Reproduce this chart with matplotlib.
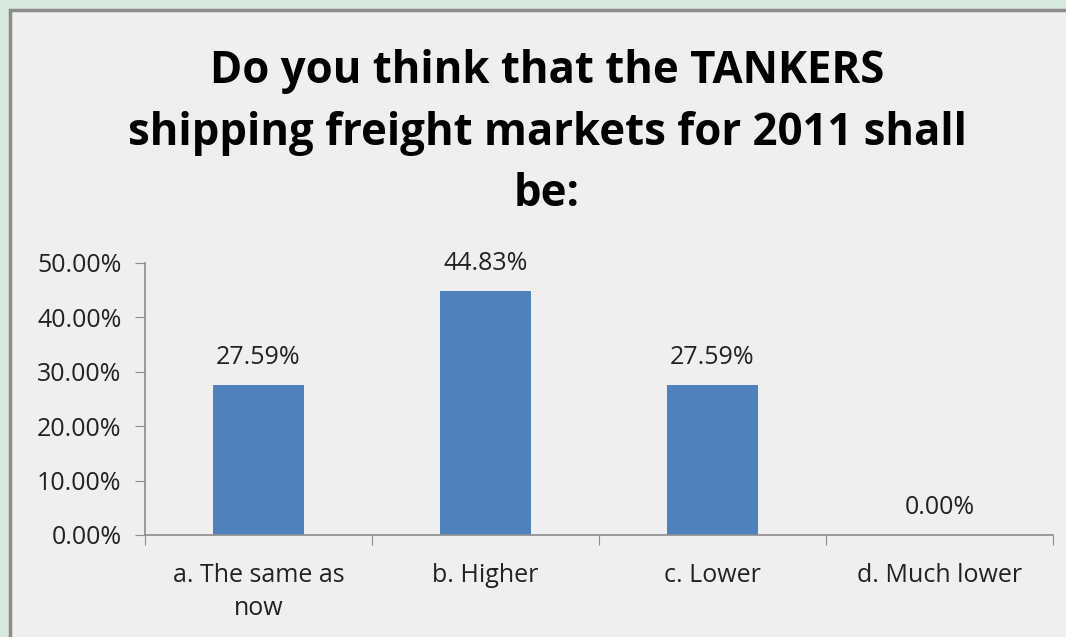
import matplotlib.pyplot as plt
from matplotlib.patches import Rectangle
from matplotlib.ticker import FuncFormatter, FixedLocator

# Dados do gráfico
categories = ['a. The same as\nnow', 'b. Higher', 'c. Lower', 'd. Much lower']
values = [27.59, 44.83, 27.59, 0.00]
title = 'Do you think that the TANKERS\nshipping freight markets for 2011 shall\nbe:'

plt.rcParams['font.family'] = ['Open Sans', 'DejaVu Sans']

fig = plt.figure(figsize=(10.66, 6.37), dpi=100)
fig.patch.set_facecolor('#d8e9df')

# moldura do gráfico
fig.patches.append(Rectangle((10 / 1066, -0.05), 1.1, 1 - 10 / 637 + 0.05,
                             transform=fig.transFigure, facecolor='#efefef',
                             edgecolor='#8c8c8c', linewidth=2.5, zorder=-1))

ax = fig.add_axes([145 / 1066, 102 / 637, 908 / 1066, 272 / 637])
ax.set_facecolor('none')

x = list(range(len(categories)))
ax.bar(x, values, width=0.4, color='#4f81bd', zorder=2)
for xi, v in zip(x, values):
    ax.annotate(f'{v:.2f}%', (xi, v), xytext=(0, 20), textcoords='offset points',
                ha='center', va='center', fontsize=18, color='#222222')

ax.set_xlim(-0.5, len(categories) - 0.5)
ax.set_ylim(0, 50)
ax.set_yticks([0, 10, 20, 30, 40, 50])
ax.yaxis.set_major_formatter(FuncFormatter(lambda v, p: f'{v:.2f}%'))

ax.xaxis.set_major_locator(FixedLocator([i - 0.5 for i in range(len(categories) + 1)]))
ax.set_xticklabels([])
ax.xaxis.set_minor_locator(FixedLocator(x))
ax.set_xticklabels(categories, minor=True, fontsize=18, color='#222222', linespacing=1.43)
ax.tick_params(axis='x', which='minor', length=0, pad=20)
ax.tick_params(axis='x', which='major', length=7, direction='out', color='#8c8c8c')
ax.tick_params(axis='y', length=7, direction='out', color='#8c8c8c',
               labelsize=18, labelcolor='#222222', pad=10)

for s in ['top', 'right']:
    ax.spines[s].set_visible(False)
for s in ['left', 'bottom']:
    ax.spines[s].set_color('#8c8c8c')
    ax.spines[s].set_linewidth(1.2)

fig.text(547 / 1066, 1 - 133 / 637, title, ha='center', va='center',
         fontsize=31.5, fontweight='bold', color='black', linespacing=1.5)

fig.savefig('out.png', dpi=100, facecolor=fig.get_facecolor())
